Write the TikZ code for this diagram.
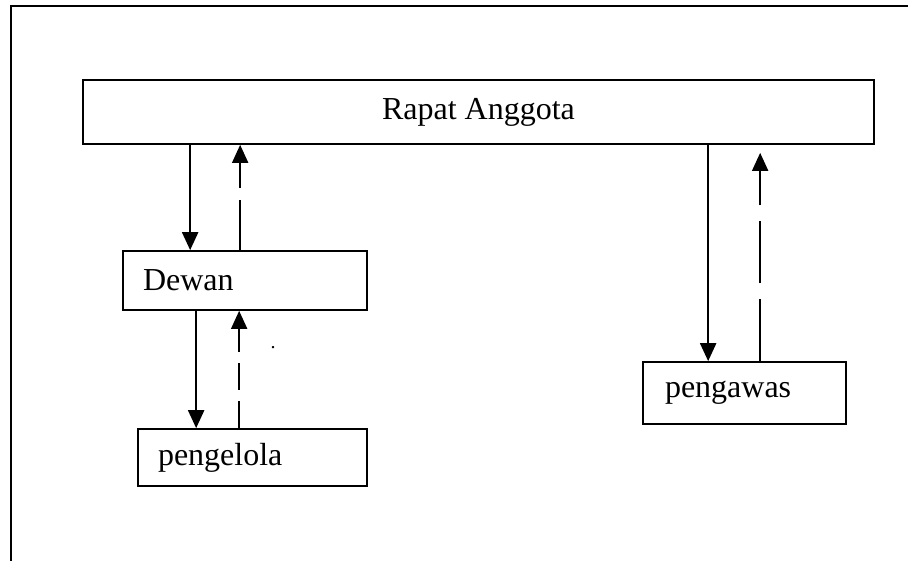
\documentclass[tikz,border=0pt]{standalone}
\usepackage{fontspec}
\setmainfont{Liberation Serif}
\usetikzlibrary{arrows.meta}
\begin{document}
\begin{tikzpicture}[x=1pt, y=-1pt, >={Triangle[length=18pt,width=16pt]},
    kotak/.style={draw, line width=1.7pt, inner sep=0pt, font=\fontsize{32}{38}\selectfont},
    kiri/.style={kotak, align=left, text width=#1},
    garis/.style={->, line width=2.2pt},
    balik/.style={->, line width=1.8pt, dash pattern=on 50pt off 12pt}]
    \useasboundingbox (0,0) rectangle (908,560);
    % Frame
    \draw[line width=2pt] (11,6) rectangle (930,580);
    % Boxes
    \node[kotak, minimum width=791pt, minimum height=64pt] (rapat) at (478.5,112) {Rapat Anggota};
    \node[kiri=204pt, inner xsep=20pt, minimum height=59pt] (dewan) at (245,280.5) {Dewan};
    \node[kiri=189pt, inner xsep=20pt, minimum height=57pt] (pengelola) at (252.5,457.5) {pengelola};
    \node[kiri=159pt, inner xsep=22pt, minimum height=62pt] (pengawas) at (744.5,393) {pengawas};
    \node[font=\fontsize{20}{24}\selectfont, inner sep=0pt] (titik) at (273,348) {.};
    % Connectors
    \draw[garis] ([xshift=108pt]rapat.south west) -- ([xshift=68pt]dewan.north west);
    \draw[balik] ([xshift=118pt]dewan.north west) -- ([xshift=158pt]rapat.south west);
    \draw[garis] ([xshift=74pt]dewan.south west) -- ([xshift=59pt]pengelola.north west);
    \draw[balik, dash pattern=on 27pt off 11pt] ([xshift=102pt]pengelola.north west) -- ([xshift=117pt]dewan.south west);
    \draw[garis] ([xshift=626pt]rapat.south west) -- ([xshift=66pt]pengawas.north west);
    \draw[balik, dash pattern=on 62pt off 16pt] ([xshift=118pt]pengawas.north west) -- ([xshift=678pt, yshift=-8pt]rapat.south west);
\end{tikzpicture}
\end{document}
